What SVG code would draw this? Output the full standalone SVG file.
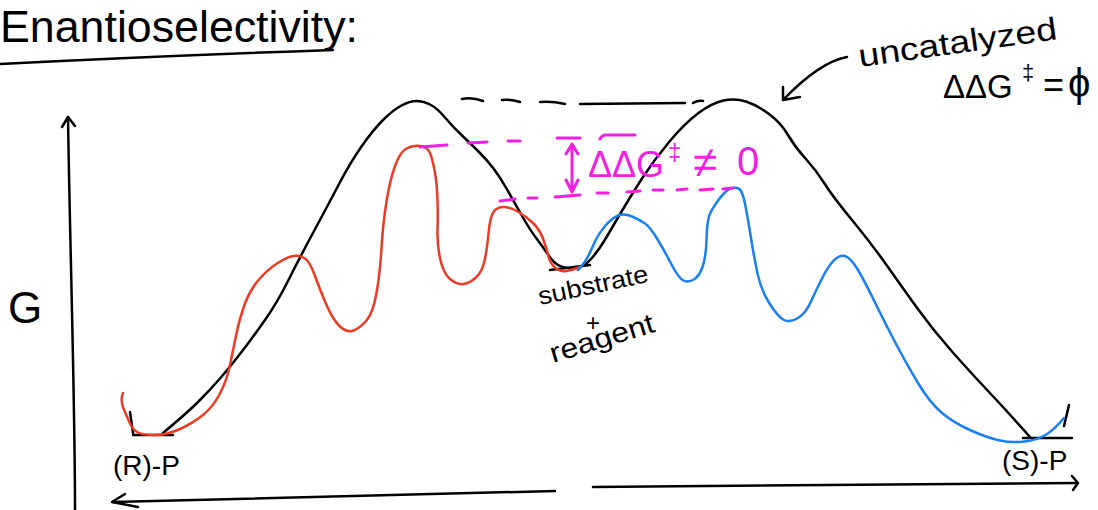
<svg xmlns="http://www.w3.org/2000/svg" width="1098" height="510" viewBox="0 0 1098 510">
<style>
.k{fill:none;stroke:#000;stroke-width:2.5;stroke-linecap:round;stroke-linejoin:round}
.r{fill:none;stroke:#ec3b25;stroke-width:2.5;stroke-linecap:round;stroke-linejoin:round}
.b{fill:none;stroke:#1a7ff0;stroke-width:2.5;stroke-linecap:round;stroke-linejoin:round}
.m{fill:none;stroke:#f21ee0;stroke-width:3;stroke-linecap:round;stroke-linejoin:round}
.t{font-family:"Liberation Sans","DejaVu Sans",sans-serif;fill:#000}
.mt{font-family:"Liberation Sans","DejaVu Sans",sans-serif;fill:#f21ee0}
</style>
<rect width="1098" height="510" fill="#fff"/>
<g id="title">
<text class="t" x="0" y="42" font-size="44" textLength="358" lengthAdjust="spacingAndGlyphs">Enantioselectivity:</text>
<path class="k" d="M0,64 Q160,56 333,50"/>
</g>
<g id="axes">
<path class="k" d="M75,510 C75,400 70,250 68,117"/>
<path class="k" d="M62,127 L68,117 L75,126"/>
<path class="k" d="M555,491 L113,502"/>
<path class="k" d="M125,494 L112,502 L138,507"/>
<path class="k" d="M593,487 L1077,483"/>
<path class="k" d="M1072,476 L1078,483 L1073,490"/>
<text class="t" x="8" y="323" font-size="44">G</text>
</g>
<g id="uncatalyzed-curve">
<path class="k" d="M130,412 L133,433 M133,435 L173,435"/>
<path class="k" d="M163,433 Q187,413 198.5,401.5 Q210,390 220,378.5 Q230,367 241.5,352 Q253,337 265,320 Q277,303 288.5,280 Q300,257 313.5,232 Q327,207 338.5,185 Q350,163 361.5,146.5 Q373,130 383,120 Q393,110 401.5,105.5 Q410,101 416.5,101 Q423,101 430,104.5 Q437,108 445,117.5 Q453,127 461.5,135 Q470,143 478.5,151.5 Q487,160 493.5,168.5 Q500,177 506.5,188.5 Q513,200 521.5,215 Q530,230 536.5,238.5 Q543,247 548,254.5 Q553,262 558,265 Q563,268 570,268.5 Q577,269 582.5,266 Q588,263 594,255.5 Q600,248 604.5,240.5 Q609,233 619.5,215 Q630,197 642,178.5 Q654,160 669.5,141.5 Q685,123 698.5,113 Q712,103 723.5,100.5 Q735,98 746,101.5 Q757,105 769,114 Q781,123 788,135 Q795,147 805.5,158.5 Q816,170 824.5,183.5 Q833,197 852,220 Q871,243 886.5,265 Q902,287 917.5,308.5 Q933,330 952,351.5 Q971,373 988.5,391.5 Q1006,410 1030,437"/>
<path class="k" d="M1023,438 L1072,438 M1064,426 L1069,405"/>
<path class="k" d="M550,270 L590,265"/>
</g>
<g id="R-pathway">
<path class="r" d="M123,393 Q120,400 123.5,408.5 Q127,417 130,423.5 Q133,430 138,432.5 Q143,435 155,435 Q167,435 180,429 Q193,423 203,415 Q213,407 220,393.5 Q227,380 230,365 Q233,350 236.5,333.5 Q240,317 245,303.5 Q250,290 258.5,280 Q267,270 277,263.5 Q287,257 293.5,256 Q300,255 305,258.5 Q310,262 315,276 Q320,290 326.5,305 Q333,320 340,326.5 Q347,333 353.5,330.5 Q360,328 366.5,320.5 Q373,313 376.5,293 Q380,273 381.5,248 Q383,223 386.5,201.5 Q390,180 395,166 Q400,152 406.5,148.5 Q413,145 420,146 Q427,147 429.5,152 Q432,157 434.5,170 Q437,183 437.5,200 Q438,217 437.5,230 Q437,243 440,258 Q443,273 450,279 Q457,285 463.5,284 Q470,283 476,277.5 Q482,272 484.5,261 Q487,250 488.5,233.5 Q490,217 493.5,212 Q497,207 503.5,207 Q510,207 518.5,212 Q527,217 533.5,223.5 Q540,230 543.5,240 Q547,250 548.5,256.5 Q550,263 555,267.5 Q560,272 566.5,271 Q573,270 580,267"/>
</g>
<g id="S-pathway">
<path class="b" d="M578,270 Q585,263 588.5,255.5 Q592,248 595.5,240.5 Q599,233 605.5,225.5 Q612,218 618,215.5 Q624,213 632,216.5 Q640,220 645,223.5 Q650,227 657,238.5 Q664,250 671,263.5 Q678,277 682.5,280 Q687,283 693,280 Q699,277 702.5,267 Q706,257 706.5,240 Q707,223 709,216.5 Q711,210 718.5,200 Q726,190 730.5,188.5 Q735,187 738.5,188.5 Q742,190 744.5,201.5 Q747,213 750.5,235 Q754,257 757.5,273.5 Q761,290 769.5,303.5 Q778,317 784,320 Q790,323 798,318 Q806,313 811,301.5 Q816,290 823,276.5 Q830,263 836,258.5 Q842,254 847,257 Q852,260 858,270 Q864,280 874.5,301.5 Q885,323 895.5,343 Q906,363 918,383 Q930,403 942,413 Q954,423 971,430.5 Q988,438 1000,440.5 Q1012,443 1024.5,441.5 Q1037,440 1045.5,435 Q1054,430 1064,418"/>
</g>
<g id="connectors">
<path class="k" d="M462,99 Q472,97 483,101 M502,100 Q511,99 520,102 M540,102 Q552,101 565,104 M580,104 L685,103 M693,103 Q698,100 703,101"/>
<path class="m" d="M420,147 L447,145 M468,143 L487,142 M508,141 L520,141 M557,138 L580,138 M600,139 Q602,135 606,135 L635,135"/>
<path class="m" d="M500,201 L515,199 M528,198 L537,198 M555,197 L580,195 M597,193 L608,193 M627,192 L640,191 M653,190 L663,190 M677,190 L687,189 M700,190 L713,189 M723,189 L733,188"/>
<path class="m" d="M572,145 L572,191 M566,154 L572,144 L578,154 M566,180 L572,192 L578,180"/>
<path class="k" d="M847,57 C830,60 810,72 783,100 M783,87 L783,100 L800,97"/>
</g>
<g id="labels">
<text class="mt" x="588" y="177" font-size="36" textLength="76" lengthAdjust="spacingAndGlyphs">ΔΔG</text>
<text class="mt" x="668" y="160" font-size="24">‡</text>
<text class="mt" x="693" y="177" font-size="44">≠</text>
<text class="mt" x="737" y="175" font-size="40">0</text>
<text class="t" x="860" y="67" font-size="32" textLength="200" lengthAdjust="spacingAndGlyphs" transform="rotate(-8 860 67)">uncatalyzed</text>
<text class="t" x="943" y="98" font-size="33">ΔΔG</text>
<text class="t" x="1022" y="80" font-size="22">‡</text>
<text class="t" x="1043" y="97" font-size="36">=</text>
<text class="t" x="1068" y="97" font-size="40">ϕ</text>
<text class="t" x="540" y="305" font-size="25" textLength="112" lengthAdjust="spacingAndGlyphs" transform="rotate(-12 540 305)">substrate</text>
<text class="t" x="586" y="331" font-size="24">+</text>
<text class="t" x="553" y="363" font-size="28" textLength="108" lengthAdjust="spacingAndGlyphs" transform="rotate(-17 553 363)">reagent</text>
<text class="t" x="113" y="475" font-size="28">(R)-P</text>
<text class="t" x="1002" y="470" font-size="28">(S)-P</text>
</g>
</svg>
